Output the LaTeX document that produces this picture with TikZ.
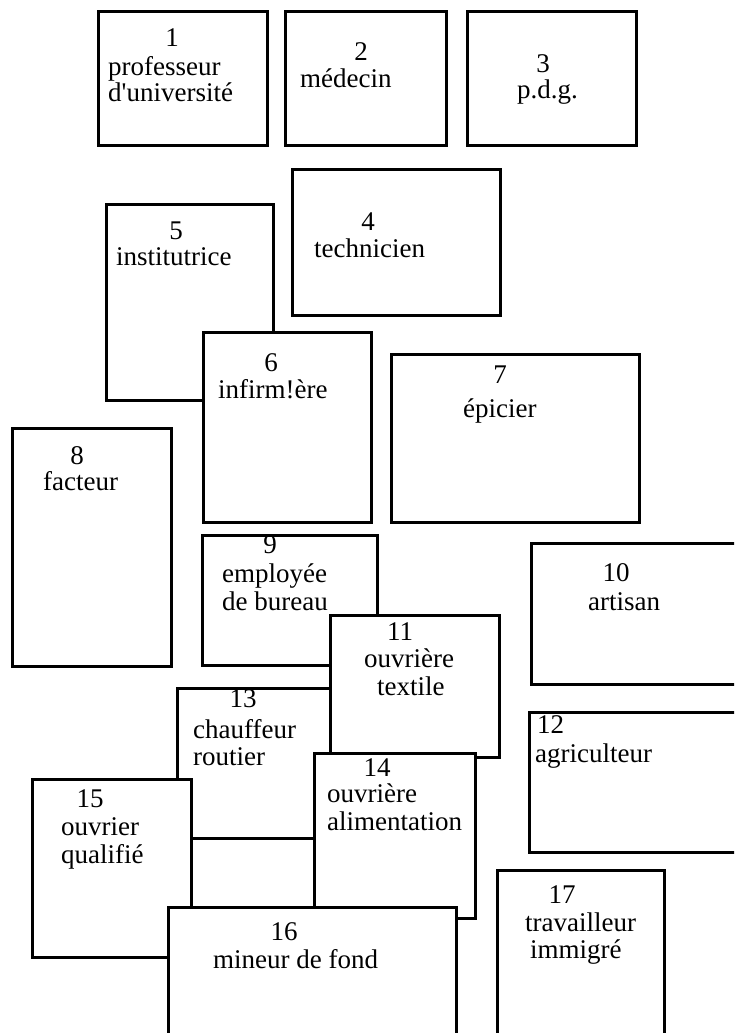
\documentclass[tikz,border=0pt]{standalone}
\usepackage{fontspec}
\setmainfont{Liberation Serif}
\tikzset{
  card/.style={draw, fill=white, line width=3pt, anchor=north west,
    inner sep=0pt, outer sep=0pt},
  num/.style={anchor=base, inner sep=0pt, font=\fontsize{27}{28}\selectfont},
  word/.style={anchor=base west, inner sep=0pt, font=\fontsize{27}{28}\selectfont}
}
\begin{document}
\begin{tikzpicture}[x=1pt, y=-1pt]
  \useasboundingbox (0,0) rectangle (734,1033);
  \clip (0,0) rectangle (734,1033);
  % top row
  \node[card, minimum width=169, minimum height=133] (c1) at (98,12) {};
  \node[num] (n1) at (172,47) {1};
  \node[word] (w1a) at (108,76) {professeur};
  \node[word] (w1b) at (108,101) {d\textquotesingle université};
  \node[card, minimum width=161, minimum height=133] (c2) at (285,12) {};
  \node[num] (n2) at (361,60) {2};
  \node[word] (w2) at (300,88) {médecin};
  \node[card, minimum width=169, minimum height=133] (c3) at (467,12) {};
  \node[num] (n3) at (543,72) {3};
  \node[word] (w3) at (517,98) {p.d.g.};
  % middle
  \node[card, minimum width=208, minimum height=146] (c4) at (292,169) {};
  \node[num] (n4) at (368,230) {4};
  \node[word] (w4) at (314,257) {technicien};
  \node[card, minimum width=167, minimum height=196] (c5) at (106,204) {};
  \node[num] (n5) at (176,239) {5};
  \node[word] (w5) at (116,265) {institutrice};
  \node[card, minimum width=168, minimum height=190] (c6) at (203,332) {};
  \node[num] (n6) at (271,371) {6};
  \node[word] (w6) at (218,398) {infirm!ère};
  \node[card, minimum width=248, minimum height=168] (c7) at (391,354) {};
  \node[num] (n7) at (500,383) {7};
  \node[word] (w7) at (463,417) {épicier};
  \node[card, minimum width=159, minimum height=238] (c8) at (12,428) {};
  \node[num] (n8) at (77,464) {8};
  \node[word] (w8) at (43,490) {facteur};
  \node[card, minimum width=175, minimum height=130] (c9) at (202,535) {};
  \node[num] (n9) at (270,553) {9};
  \node[word] (w9a) at (222,582) {employée};
  \node[word] (w9b) at (222,610) {de bureau};
  \node[card, minimum width=214, minimum height=141] (c10) at (531,543) {};
  \node[num] (n10) at (616,581) {10};
  \node[word] (w10) at (588,610) {artisan};
  % lower group
  \node[card, minimum width=163, minimum height=150] (c13) at (177,688) {};
  \node[num] (n13) at (243,707) {13};
  \node[word] (w13a) at (193,738) {chauffeur};
  \node[word] (w13b) at (193,765) {routier};
  \node[card, minimum width=169, minimum height=142] (c11) at (330,615) {};
  \node[num] (n11) at (400,640) {11};
  \node[word] (w11a) at (364,667) {ouvrière};
  \node[word] (w11b) at (377,695) {textile};
  \node[card, minimum width=216, minimum height=140] (c12) at (529,712) {};
  \node[num, anchor=base west] (n12) at (537,733) {12};
  \node[word] (w12) at (535,762) {agriculteur};
  \node[card, minimum width=161, minimum height=165] (c14) at (314,753) {};
  \node[num] (n14) at (377,776) {14};
  \node[word] (w14a) at (327,802) {ouvrière};
  \node[word] (w14b) at (327,830) {alimentation};
  \node[card, minimum width=159, minimum height=178] (c15) at (32,779) {};
  \node[num] (n15) at (90,807) {15};
  \node[word] (w15a) at (61,835) {ouvrier};
  \node[word] (w15b) at (61,863) {qualifié};
  \node[card, minimum width=288, minimum height=140] (c16) at (168,907) {};
  \node[num] (n16) at (284,940) {16};
  \node[word] (w16) at (213,968) {mineur de fond};
  \node[card, minimum width=167, minimum height=175] (c17) at (497,870) {};
  \node[num] (n17) at (562,903) {17};
  \node[word] (w17a) at (525,931) {travailleur};
  \node[word] (w17b) at (530,958) {immigré};
\end{tikzpicture}
\end{document}
